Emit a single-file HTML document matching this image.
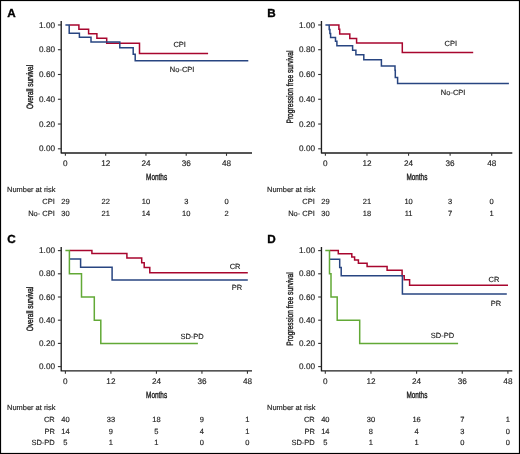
<!DOCTYPE html><html><head><meta charset="utf-8"><style>html,body{margin:0;padding:0;background:#fff;}svg{display:block;will-change:transform;filter:blur(0.3px);}text{font-family:"Liberation Sans",sans-serif;fill:#222;text-rendering:geometricPrecision;stroke:#222;stroke-width:0.15px;}.cond{stroke:#222;stroke-width:0.4px;}</style></head><body>
<svg width="520" height="454" viewBox="0 0 520 454">
<rect x="0" y="0" width="520" height="454" fill="#fff"/>
<text x="7.20" y="17.30" font-size="11.7" text-anchor="start" font-weight="bold" style="fill:#000;stroke:#000;stroke-width:0.35px">A</text>
<path d="M61.2,21.1 L61.2,152.95 L252.0,152.95" fill="none" stroke="#1e1e1e" stroke-width="1.35" stroke-linejoin="round"/>
<line x1="57.90" y1="24.95" x2="61.2" y2="24.95" stroke="#333" stroke-width="1.1"/>
<text x="55.00" y="27.55" font-size="8.2" text-anchor="end" font-weight="normal" >1.00</text>
<line x1="57.90" y1="49.72" x2="61.2" y2="49.72" stroke="#333" stroke-width="1.1"/>
<text x="55.00" y="52.32" font-size="8.2" text-anchor="end" font-weight="normal" >0.80</text>
<line x1="57.90" y1="74.49" x2="61.2" y2="74.49" stroke="#333" stroke-width="1.1"/>
<text x="55.00" y="77.09" font-size="8.2" text-anchor="end" font-weight="normal" >0.60</text>
<line x1="57.90" y1="99.26" x2="61.2" y2="99.26" stroke="#333" stroke-width="1.1"/>
<text x="55.00" y="101.86" font-size="8.2" text-anchor="end" font-weight="normal" >0.40</text>
<line x1="57.90" y1="124.03" x2="61.2" y2="124.03" stroke="#333" stroke-width="1.1"/>
<text x="55.00" y="126.63" font-size="8.2" text-anchor="end" font-weight="normal" >0.20</text>
<line x1="57.90" y1="148.80" x2="61.2" y2="148.80" stroke="#333" stroke-width="1.1"/>
<text x="55.00" y="151.40" font-size="8.2" text-anchor="end" font-weight="normal" >0.00</text>
<line x1="65.40" y1="152.95" x2="65.40" y2="155.85" stroke="#333" stroke-width="1.1"/>
<text x="65.40" y="166.35" font-size="8.2" text-anchor="middle" font-weight="normal" >0</text>
<line x1="105.68" y1="152.95" x2="105.68" y2="155.85" stroke="#333" stroke-width="1.1"/>
<text x="105.68" y="166.35" font-size="8.2" text-anchor="middle" font-weight="normal" >12</text>
<line x1="145.95" y1="152.95" x2="145.95" y2="155.85" stroke="#333" stroke-width="1.1"/>
<text x="145.95" y="166.35" font-size="8.2" text-anchor="middle" font-weight="normal" >24</text>
<line x1="186.22" y1="152.95" x2="186.22" y2="155.85" stroke="#333" stroke-width="1.1"/>
<text x="186.22" y="166.35" font-size="8.2" text-anchor="middle" font-weight="normal" >36</text>
<line x1="226.50" y1="152.95" x2="226.50" y2="155.85" stroke="#333" stroke-width="1.1"/>
<text x="226.50" y="166.35" font-size="8.2" text-anchor="middle" font-weight="normal" >48</text>
<text x="156.60" y="179.75" font-size="9.2" text-anchor="middle" font-weight="normal" textLength="21.0" lengthAdjust="spacingAndGlyphs" class="cond">Months</text>
<text transform="translate(32.60,87.02) rotate(-90)" x="0" y="0" font-size="9.2" class="cond" text-anchor="middle" textLength="44.2" lengthAdjust="spacingAndGlyphs">Overall survival</text>
<text x="7.10" y="192.15" font-size="7.45" text-anchor="start" font-weight="normal" >Number at risk</text>
<text x="54.80" y="203.85" font-size="7.5" text-anchor="end" font-weight="normal" >CPI</text>
<text x="65.40" y="203.85" font-size="7.5" text-anchor="middle" font-weight="normal" >29</text>
<text x="105.68" y="203.85" font-size="7.5" text-anchor="middle" font-weight="normal" >22</text>
<text x="145.95" y="203.85" font-size="7.5" text-anchor="middle" font-weight="normal" >10</text>
<text x="186.22" y="203.85" font-size="7.5" text-anchor="middle" font-weight="normal" >3</text>
<text x="226.50" y="203.85" font-size="7.5" text-anchor="middle" font-weight="normal" >0</text>
<text x="54.80" y="215.55" font-size="7.5" text-anchor="end" font-weight="normal" >No- CPI</text>
<text x="65.40" y="215.55" font-size="7.5" text-anchor="middle" font-weight="normal" >30</text>
<text x="105.68" y="215.55" font-size="7.5" text-anchor="middle" font-weight="normal" >21</text>
<text x="145.95" y="215.55" font-size="7.5" text-anchor="middle" font-weight="normal" >14</text>
<text x="186.22" y="215.55" font-size="7.5" text-anchor="middle" font-weight="normal" >10</text>
<text x="226.50" y="215.55" font-size="7.5" text-anchor="middle" font-weight="normal" >2</text>
<text x="267.20" y="17.30" font-size="11.7" text-anchor="start" font-weight="bold" style="fill:#000;stroke:#000;stroke-width:0.35px">B</text>
<path d="M321.45,21.1 L321.45,152.95 L512.3,152.95" fill="none" stroke="#1e1e1e" stroke-width="1.35" stroke-linejoin="round"/>
<line x1="318.15" y1="24.95" x2="321.45" y2="24.95" stroke="#333" stroke-width="1.1"/>
<text x="315.00" y="27.55" font-size="8.2" text-anchor="end" font-weight="normal" >1.00</text>
<line x1="318.15" y1="49.72" x2="321.45" y2="49.72" stroke="#333" stroke-width="1.1"/>
<text x="315.00" y="52.32" font-size="8.2" text-anchor="end" font-weight="normal" >0.80</text>
<line x1="318.15" y1="74.49" x2="321.45" y2="74.49" stroke="#333" stroke-width="1.1"/>
<text x="315.00" y="77.09" font-size="8.2" text-anchor="end" font-weight="normal" >0.60</text>
<line x1="318.15" y1="99.26" x2="321.45" y2="99.26" stroke="#333" stroke-width="1.1"/>
<text x="315.00" y="101.86" font-size="8.2" text-anchor="end" font-weight="normal" >0.40</text>
<line x1="318.15" y1="124.03" x2="321.45" y2="124.03" stroke="#333" stroke-width="1.1"/>
<text x="315.00" y="126.63" font-size="8.2" text-anchor="end" font-weight="normal" >0.20</text>
<line x1="318.15" y1="148.80" x2="321.45" y2="148.80" stroke="#333" stroke-width="1.1"/>
<text x="315.00" y="151.40" font-size="8.2" text-anchor="end" font-weight="normal" >0.00</text>
<line x1="325.40" y1="152.95" x2="325.40" y2="155.85" stroke="#333" stroke-width="1.1"/>
<text x="325.40" y="166.35" font-size="8.2" text-anchor="middle" font-weight="normal" >0</text>
<line x1="366.97" y1="152.95" x2="366.97" y2="155.85" stroke="#333" stroke-width="1.1"/>
<text x="366.97" y="166.35" font-size="8.2" text-anchor="middle" font-weight="normal" >12</text>
<line x1="408.55" y1="152.95" x2="408.55" y2="155.85" stroke="#333" stroke-width="1.1"/>
<text x="408.55" y="166.35" font-size="8.2" text-anchor="middle" font-weight="normal" >24</text>
<line x1="450.12" y1="152.95" x2="450.12" y2="155.85" stroke="#333" stroke-width="1.1"/>
<text x="450.12" y="166.35" font-size="8.2" text-anchor="middle" font-weight="normal" >36</text>
<line x1="491.70" y1="152.95" x2="491.70" y2="155.85" stroke="#333" stroke-width="1.1"/>
<text x="491.70" y="166.35" font-size="8.2" text-anchor="middle" font-weight="normal" >48</text>
<text x="416.88" y="179.75" font-size="9.2" text-anchor="middle" font-weight="normal" textLength="21.0" lengthAdjust="spacingAndGlyphs" class="cond">Months</text>
<text transform="translate(292.60,87.02) rotate(-90)" x="0" y="0" font-size="9.2" class="cond" text-anchor="middle" textLength="73.0" lengthAdjust="spacingAndGlyphs">Progression free survival</text>
<text x="267.10" y="192.15" font-size="7.45" text-anchor="start" font-weight="normal" >Number at risk</text>
<text x="314.80" y="203.85" font-size="7.5" text-anchor="end" font-weight="normal" >CPI</text>
<text x="325.40" y="203.85" font-size="7.5" text-anchor="middle" font-weight="normal" >29</text>
<text x="366.97" y="203.85" font-size="7.5" text-anchor="middle" font-weight="normal" >21</text>
<text x="408.55" y="203.85" font-size="7.5" text-anchor="middle" font-weight="normal" >10</text>
<text x="450.12" y="203.85" font-size="7.5" text-anchor="middle" font-weight="normal" >3</text>
<text x="491.70" y="203.85" font-size="7.5" text-anchor="middle" font-weight="normal" >0</text>
<text x="314.80" y="215.55" font-size="7.5" text-anchor="end" font-weight="normal" >No- CPI</text>
<text x="325.40" y="215.55" font-size="7.5" text-anchor="middle" font-weight="normal" >30</text>
<text x="366.97" y="215.55" font-size="7.5" text-anchor="middle" font-weight="normal" >18</text>
<text x="408.55" y="215.55" font-size="7.5" text-anchor="middle" font-weight="normal" >11</text>
<text x="450.12" y="215.55" font-size="7.5" text-anchor="middle" font-weight="normal" >7</text>
<text x="491.70" y="215.55" font-size="7.5" text-anchor="middle" font-weight="normal" >1</text>
<text x="7.20" y="243.30" font-size="11.7" text-anchor="start" font-weight="bold" style="fill:#000;stroke:#000;stroke-width:0.35px">C</text>
<path d="M61.2,247.1 L61.2,370.9 L252.0,370.9" fill="none" stroke="#1e1e1e" stroke-width="1.35" stroke-linejoin="round"/>
<line x1="57.90" y1="250.60" x2="61.2" y2="250.60" stroke="#333" stroke-width="1.1"/>
<text x="55.00" y="253.20" font-size="8.2" text-anchor="end" font-weight="normal" >1.00</text>
<line x1="57.90" y1="273.80" x2="61.2" y2="273.80" stroke="#333" stroke-width="1.1"/>
<text x="55.00" y="276.40" font-size="8.2" text-anchor="end" font-weight="normal" >0.80</text>
<line x1="57.90" y1="297.00" x2="61.2" y2="297.00" stroke="#333" stroke-width="1.1"/>
<text x="55.00" y="299.60" font-size="8.2" text-anchor="end" font-weight="normal" >0.60</text>
<line x1="57.90" y1="320.20" x2="61.2" y2="320.20" stroke="#333" stroke-width="1.1"/>
<text x="55.00" y="322.80" font-size="8.2" text-anchor="end" font-weight="normal" >0.40</text>
<line x1="57.90" y1="343.40" x2="61.2" y2="343.40" stroke="#333" stroke-width="1.1"/>
<text x="55.00" y="346.00" font-size="8.2" text-anchor="end" font-weight="normal" >0.20</text>
<line x1="57.90" y1="366.60" x2="61.2" y2="366.60" stroke="#333" stroke-width="1.1"/>
<text x="55.00" y="369.20" font-size="8.2" text-anchor="end" font-weight="normal" >0.00</text>
<line x1="65.40" y1="370.9" x2="65.40" y2="373.80" stroke="#333" stroke-width="1.1"/>
<text x="65.40" y="384.30" font-size="8.2" text-anchor="middle" font-weight="normal" >0</text>
<line x1="110.91" y1="370.9" x2="110.91" y2="373.80" stroke="#333" stroke-width="1.1"/>
<text x="110.91" y="384.30" font-size="8.2" text-anchor="middle" font-weight="normal" >12</text>
<line x1="156.43" y1="370.9" x2="156.43" y2="373.80" stroke="#333" stroke-width="1.1"/>
<text x="156.43" y="384.30" font-size="8.2" text-anchor="middle" font-weight="normal" >24</text>
<line x1="201.94" y1="370.9" x2="201.94" y2="373.80" stroke="#333" stroke-width="1.1"/>
<text x="201.94" y="384.30" font-size="8.2" text-anchor="middle" font-weight="normal" >36</text>
<line x1="247.45" y1="370.9" x2="247.45" y2="373.80" stroke="#333" stroke-width="1.1"/>
<text x="247.45" y="384.30" font-size="8.2" text-anchor="middle" font-weight="normal" >48</text>
<text x="156.60" y="397.70" font-size="9.2" text-anchor="middle" font-weight="normal" textLength="21.0" lengthAdjust="spacingAndGlyphs" class="cond">Months</text>
<text transform="translate(32.60,309.00) rotate(-90)" x="0" y="0" font-size="9.2" class="cond" text-anchor="middle" textLength="44.6" lengthAdjust="spacingAndGlyphs">Overall survival</text>
<text x="7.10" y="410.10" font-size="7.45" text-anchor="start" font-weight="normal" >Number at risk</text>
<text x="54.80" y="421.80" font-size="7.5" text-anchor="end" font-weight="normal" >CR</text>
<text x="65.40" y="421.80" font-size="7.5" text-anchor="middle" font-weight="normal" >40</text>
<text x="110.91" y="421.80" font-size="7.5" text-anchor="middle" font-weight="normal" >33</text>
<text x="156.43" y="421.80" font-size="7.5" text-anchor="middle" font-weight="normal" >18</text>
<text x="201.94" y="421.80" font-size="7.5" text-anchor="middle" font-weight="normal" >9</text>
<text x="247.45" y="421.80" font-size="7.5" text-anchor="middle" font-weight="normal" >1</text>
<text x="54.80" y="433.50" font-size="7.5" text-anchor="end" font-weight="normal" >PR</text>
<text x="65.40" y="433.50" font-size="7.5" text-anchor="middle" font-weight="normal" >14</text>
<text x="110.91" y="433.50" font-size="7.5" text-anchor="middle" font-weight="normal" >9</text>
<text x="156.43" y="433.50" font-size="7.5" text-anchor="middle" font-weight="normal" >5</text>
<text x="201.94" y="433.50" font-size="7.5" text-anchor="middle" font-weight="normal" >4</text>
<text x="247.45" y="433.50" font-size="7.5" text-anchor="middle" font-weight="normal" >1</text>
<text x="54.80" y="445.20" font-size="7.5" text-anchor="end" font-weight="normal" >SD-PD</text>
<text x="65.40" y="445.20" font-size="7.5" text-anchor="middle" font-weight="normal" >5</text>
<text x="110.91" y="445.20" font-size="7.5" text-anchor="middle" font-weight="normal" >1</text>
<text x="156.43" y="445.20" font-size="7.5" text-anchor="middle" font-weight="normal" >1</text>
<text x="201.94" y="445.20" font-size="7.5" text-anchor="middle" font-weight="normal" >0</text>
<text x="247.45" y="445.20" font-size="7.5" text-anchor="middle" font-weight="normal" >0</text>
<text x="267.20" y="243.30" font-size="11.7" text-anchor="start" font-weight="bold" style="fill:#000;stroke:#000;stroke-width:0.35px">D</text>
<path d="M321.45,247.1 L321.45,370.9 L512.3,370.9" fill="none" stroke="#1e1e1e" stroke-width="1.35" stroke-linejoin="round"/>
<line x1="318.15" y1="250.60" x2="321.45" y2="250.60" stroke="#333" stroke-width="1.1"/>
<text x="315.00" y="253.20" font-size="8.2" text-anchor="end" font-weight="normal" >1.00</text>
<line x1="318.15" y1="273.80" x2="321.45" y2="273.80" stroke="#333" stroke-width="1.1"/>
<text x="315.00" y="276.40" font-size="8.2" text-anchor="end" font-weight="normal" >0.80</text>
<line x1="318.15" y1="297.00" x2="321.45" y2="297.00" stroke="#333" stroke-width="1.1"/>
<text x="315.00" y="299.60" font-size="8.2" text-anchor="end" font-weight="normal" >0.60</text>
<line x1="318.15" y1="320.20" x2="321.45" y2="320.20" stroke="#333" stroke-width="1.1"/>
<text x="315.00" y="322.80" font-size="8.2" text-anchor="end" font-weight="normal" >0.40</text>
<line x1="318.15" y1="343.40" x2="321.45" y2="343.40" stroke="#333" stroke-width="1.1"/>
<text x="315.00" y="346.00" font-size="8.2" text-anchor="end" font-weight="normal" >0.20</text>
<line x1="318.15" y1="366.60" x2="321.45" y2="366.60" stroke="#333" stroke-width="1.1"/>
<text x="315.00" y="369.20" font-size="8.2" text-anchor="end" font-weight="normal" >0.00</text>
<line x1="325.30" y1="370.9" x2="325.30" y2="373.80" stroke="#333" stroke-width="1.1"/>
<text x="325.30" y="384.30" font-size="8.2" text-anchor="middle" font-weight="normal" >0</text>
<line x1="370.95" y1="370.9" x2="370.95" y2="373.80" stroke="#333" stroke-width="1.1"/>
<text x="370.95" y="384.30" font-size="8.2" text-anchor="middle" font-weight="normal" >12</text>
<line x1="416.60" y1="370.9" x2="416.60" y2="373.80" stroke="#333" stroke-width="1.1"/>
<text x="416.60" y="384.30" font-size="8.2" text-anchor="middle" font-weight="normal" >24</text>
<line x1="462.25" y1="370.9" x2="462.25" y2="373.80" stroke="#333" stroke-width="1.1"/>
<text x="462.25" y="384.30" font-size="8.2" text-anchor="middle" font-weight="normal" >36</text>
<line x1="507.90" y1="370.9" x2="507.90" y2="373.80" stroke="#333" stroke-width="1.1"/>
<text x="507.90" y="384.30" font-size="8.2" text-anchor="middle" font-weight="normal" >48</text>
<text x="416.88" y="397.70" font-size="9.2" text-anchor="middle" font-weight="normal" textLength="21.0" lengthAdjust="spacingAndGlyphs" class="cond">Months</text>
<text transform="translate(292.60,309.00) rotate(-90)" x="0" y="0" font-size="9.2" class="cond" text-anchor="middle" textLength="73.5" lengthAdjust="spacingAndGlyphs">Progression free survival</text>
<text x="267.10" y="410.10" font-size="7.45" text-anchor="start" font-weight="normal" >Number at risk</text>
<text x="314.80" y="421.80" font-size="7.5" text-anchor="end" font-weight="normal" >CR</text>
<text x="325.30" y="421.80" font-size="7.5" text-anchor="middle" font-weight="normal" >40</text>
<text x="370.95" y="421.80" font-size="7.5" text-anchor="middle" font-weight="normal" >30</text>
<text x="416.60" y="421.80" font-size="7.5" text-anchor="middle" font-weight="normal" >16</text>
<text x="462.25" y="421.80" font-size="7.5" text-anchor="middle" font-weight="normal" >7</text>
<text x="507.90" y="421.80" font-size="7.5" text-anchor="middle" font-weight="normal" >1</text>
<text x="314.80" y="433.50" font-size="7.5" text-anchor="end" font-weight="normal" >PR</text>
<text x="325.30" y="433.50" font-size="7.5" text-anchor="middle" font-weight="normal" >14</text>
<text x="370.95" y="433.50" font-size="7.5" text-anchor="middle" font-weight="normal" >8</text>
<text x="416.60" y="433.50" font-size="7.5" text-anchor="middle" font-weight="normal" >4</text>
<text x="462.25" y="433.50" font-size="7.5" text-anchor="middle" font-weight="normal" >3</text>
<text x="507.90" y="433.50" font-size="7.5" text-anchor="middle" font-weight="normal" >0</text>
<text x="314.80" y="445.20" font-size="7.5" text-anchor="end" font-weight="normal" >SD-PD</text>
<text x="325.30" y="445.20" font-size="7.5" text-anchor="middle" font-weight="normal" >5</text>
<text x="370.95" y="445.20" font-size="7.5" text-anchor="middle" font-weight="normal" >1</text>
<text x="416.60" y="445.20" font-size="7.5" text-anchor="middle" font-weight="normal" >1</text>
<text x="462.25" y="445.20" font-size="7.5" text-anchor="middle" font-weight="normal" >0</text>
<text x="507.90" y="445.20" font-size="7.5" text-anchor="middle" font-weight="normal" >0</text>
<path d="M69.60,24.95 L78.90,24.95 L78.90,29.35 L88.60,29.35 L88.60,33.70 L96.90,33.70 L96.90,38.20 L106.70,38.20 L106.70,43.20 L139.50,43.20 L139.50,53.50 L208.10,53.50" fill="none" stroke="#a8062e" stroke-width="1.5" stroke-linejoin="miter" stroke-linecap="butt"/>
<path d="M65.40,24.95 L69.20,24.95 L69.20,33.20 L79.40,33.20 L79.40,37.30 L91.00,37.30 L91.00,41.90 L119.80,41.90 L119.80,47.80 L133.20,47.80 L133.20,54.20 L135.20,54.20 L135.20,60.70 L248.30,60.70" fill="none" stroke="#284581" stroke-width="1.5" stroke-linejoin="miter" stroke-linecap="butt"/>
<text x="173.40" y="47.00" font-size="7.5" text-anchor="start" font-weight="normal" >CPI</text>
<text x="169.80" y="71.90" font-size="7.5" text-anchor="start" font-weight="normal" >No-CPI</text>
<path d="M329.60,24.95 L338.90,24.95 L338.90,29.30 L339.70,29.30 L339.70,33.90 L349.80,33.90 L349.80,38.40 L356.60,38.40 L356.60,42.90 L402.30,42.90 L402.30,52.50 L473.20,52.50" fill="none" stroke="#a8062e" stroke-width="1.5" stroke-linejoin="miter" stroke-linecap="butt"/>
<path d="M325.40,24.95 L329.20,24.95 L329.20,29.60 L329.90,29.60 L329.90,33.60 L330.60,33.60 L330.60,37.50 L335.50,37.50 L335.50,41.30 L336.90,41.30 L336.90,45.70 L352.60,45.70 L352.60,50.20 L355.90,50.20 L355.90,54.70 L363.80,54.70 L363.80,59.80 L381.40,59.80 L381.40,66.10 L395.00,66.10 L395.00,70.20 L395.30,70.20 L395.30,77.50 L397.60,77.50 L397.60,83.50 L508.90,83.50" fill="none" stroke="#284581" stroke-width="1.5" stroke-linejoin="miter" stroke-linecap="butt"/>
<text x="444.50" y="46.10" font-size="7.5" text-anchor="start" font-weight="normal" >CPI</text>
<text x="440.80" y="94.80" font-size="7.5" text-anchor="start" font-weight="normal" >No-CPI</text>
<path d="M69.80,250.60 L91.90,250.60 L91.90,253.60 L126.90,253.60 L126.90,257.90 L141.70,257.90 L141.70,262.80 L144.20,262.80 L144.20,267.60 L149.80,267.60 L149.80,272.85 L247.80,272.85" fill="none" stroke="#a8062e" stroke-width="1.5" stroke-linejoin="miter" stroke-linecap="butt"/>
<path d="M69.80,259.10 L80.60,259.10 L80.60,267.20 L112.10,267.20 L112.10,279.90 L247.80,279.90" fill="none" stroke="#284581" stroke-width="1.5" stroke-linejoin="miter" stroke-linecap="butt"/>
<path d="M65.40,250.60 L69.40,250.60 L69.40,273.80 L81.50,273.80 L81.50,297.00 L94.30,297.00 L94.30,320.20 L100.80,320.20 L100.80,343.50 L197.90,343.50" fill="none" stroke="#62a936" stroke-width="1.5" stroke-linejoin="miter" stroke-linecap="butt"/>
<text x="229.70" y="268.90" font-size="7.5" text-anchor="start" font-weight="normal" >CR</text>
<text x="231.80" y="290.20" font-size="7.5" text-anchor="start" font-weight="normal" >PR</text>
<text x="180.40" y="339.20" font-size="7.5" text-anchor="start" font-weight="normal" >SD-PD</text>
<path d="M329.90,250.60 L338.30,250.60 L338.30,253.70 L351.80,253.70 L351.80,256.90 L354.60,256.90 L354.60,260.00 L358.40,260.00 L358.40,263.20 L367.10,263.20 L367.10,266.50 L387.10,266.50 L387.10,270.30 L402.10,270.30 L402.10,275.80 L404.20,275.80 L404.20,279.80 L409.60,279.80 L409.60,285.30 L508.00,285.30" fill="none" stroke="#a8062e" stroke-width="1.5" stroke-linejoin="miter" stroke-linecap="butt"/>
<path d="M329.90,259.30 L339.70,259.30 L339.70,267.40 L341.20,267.40 L341.20,275.70 L402.40,275.70 L402.40,294.00 L506.80,294.00" fill="none" stroke="#284581" stroke-width="1.5" stroke-linejoin="miter" stroke-linecap="butt"/>
<path d="M325.30,250.60 L329.50,250.60 L329.50,273.80 L331.00,273.80 L331.00,297.10 L337.20,297.10 L337.20,320.20 L359.70,320.20 L359.70,343.50 L458.10,343.50" fill="none" stroke="#62a936" stroke-width="1.5" stroke-linejoin="miter" stroke-linecap="butt"/>
<text x="488.60" y="281.90" font-size="7.5" text-anchor="start" font-weight="normal" >CR</text>
<text x="490.80" y="306.10" font-size="7.5" text-anchor="start" font-weight="normal" >PR</text>
<text x="430.80" y="338.20" font-size="7.5" text-anchor="start" font-weight="normal" >SD-PD</text>
<rect x="0.5" y="0.5" width="519" height="453" fill="none" stroke="#000" stroke-width="1.2"/>
</svg></body></html>
